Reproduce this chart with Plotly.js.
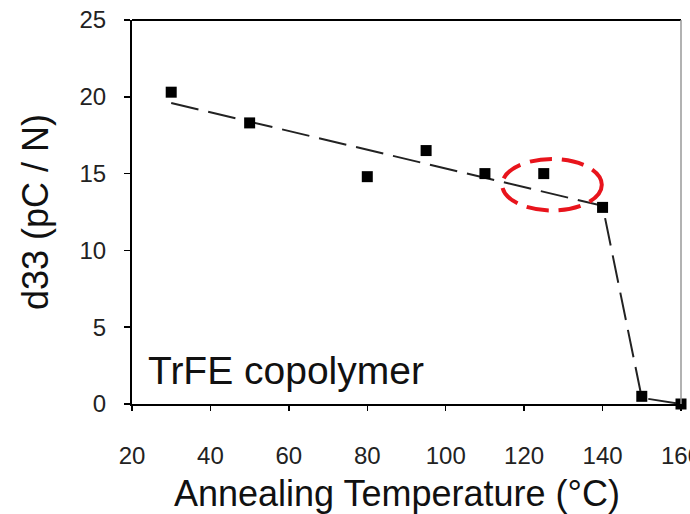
<!DOCTYPE html>
<html>
<head>
<meta charset="utf-8">
<script src="https://cdn.plot.ly/plotly-3.0.1.min.js"></script>
<style>
  html, body { margin: 0; padding: 0; background: #fff; }
  #chart { width: 690px; height: 514px; }
</style>
</head>
<body>
<div id="chart"></div>
<script>
// Annealing temperature (°C) and measured piezoelectric coefficient d33 (pC/N)
const temperature = [30, 50, 80, 95, 110, 125, 140, 150, 160];
const d33 = [20.3, 18.3, 14.8, 16.5, 15.0, 15.0, 12.8, 0.5, 0.0];

// Guide-to-the-eye trend line
const trendT = [30, 140, 150, 160];
const trendD = [19.6, 12.9, 0.4, 0.0];

// Highlighted region around the 125 °C sample
const highlightT = [114.4, 139.8];
const highlightD = [12.6, 15.95];

const xTicks = [20, 40, 60, 80, 100, 120, 140, 160];
const yTicks = [0, 5, 10, 15, 20, 25];

const FONT = "Liberation Sans, Arial, Helvetica, sans-serif";

const traces = [
  {
    x: trendT, y: trendD,
    mode: "lines",
    line: { color: "#222", width: 2, dash: "28px,10px" },
    hoverinfo: "skip",
    showlegend: false
  },
  {
    x: temperature, y: d33,
    mode: "markers",
    marker: { symbol: "square", size: 11, color: "#000" },
    cliponaxis: false,
    showlegend: false
  }
];

const layout = {
  width: 690, height: 514,
  margin: { l: 132, r: 9, t: 20, b: 110 },
  paper_bgcolor: "#fff", plot_bgcolor: "#fff",
  font: { family: FONT, color: "#111" },
  showlegend: false,
  xaxis: {
    range: [20, 160],
    tickvals: xTicks,
    ticktext: xTicks.map(String),
    showgrid: false, zeroline: false,
    showline: true, linecolor: "#000", linewidth: 2,
    ticks: "outside", ticklen: 5, tickwidth: 1.5, tickcolor: "#000",
    ticklabelstandoff: 24,
    ticklabeloverflow: "allow",
    tickfont: { size: 24, color: "#222", family: FONT },
    automargin: false
  },
  yaxis: {
    range: [0, 25],
    tickvals: yTicks,
    ticktext: yTicks.map(String),
    showgrid: false, zeroline: false,
    showline: true, linecolor: "#000", linewidth: 2,
    ticks: "outside", ticklen: 6, tickwidth: 1.5, tickcolor: "#000",
    ticklabelstandoff: 13,
    tickfont: { size: 24, color: "#222", family: FONT },
    title: { text: "d33 (pC / N)", font: { size: 36, color: "#111", family: FONT }, standoff: 20 },
    automargin: false
  },
  shapes: [
    // top frame line
    { type: "line", xref: "paper", yref: "paper", x0: 0, x1: 1, y0: 1, y1: 1,
      line: { color: "#000", width: 2 } },
    // right frame line
    { type: "line", xref: "paper", yref: "paper", x0: 1, x1: 1, y0: 0, y1: 1,
      line: { color: "#999", width: 1.5 } },
    // dashed red ellipse
    { type: "circle", xref: "x", yref: "y",
      x0: highlightT[0], x1: highlightT[1], y0: highlightD[0], y1: highlightD[1],
      line: { color: "#e8141c", width: 4, dash: "22px,10px" } }
  ],
  annotations: [
    // x axis title
    { text: "Annealing Temperature (°C)", xref: "paper", yref: "paper",
      x: 0.4827, y: -0.232, xanchor: "center", yanchor: "middle",
      showarrow: false, font: { size: 36, color: "#111", family: FONT } },
    { text: "TrFE copolymer", xref: "paper", yref: "paper",
      x: 0.0255, y: 0.026, xanchor: "left", yanchor: "bottom",
      showarrow: false, font: { size: 39, color: "#111", family: FONT } }
  ]
};

Plotly.newPlot("chart", traces, layout, { staticPlot: true, displayModeBar: false });
</script>
</body>
</html>
